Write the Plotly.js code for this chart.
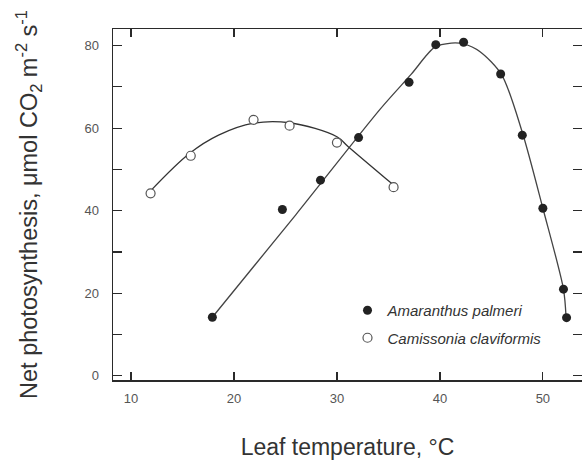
<!DOCTYPE html>
<html>
<head>
<meta charset="utf-8">
<script src="https://cdn.plot.ly/plotly-3.0.1.min.js"></script>
<style>html,body{margin:0;padding:0;background:#fff;}#chart{width:582px;height:460px;}</style>
</head>
<body>
<div id="chart"></div>
<script>
// Observed data points
const amaranthusTemp = [17.9, 24.7, 28.4, 32.1, 37.0, 39.6, 42.3, 45.9, 48.0, 50.0, 52.0, 52.3];
const amaranthusRate = [14.2, 40.3, 47.4, 57.7, 71.1, 80.2, 80.8, 73.1, 58.3, 40.6, 21.0, 14.1];
const camissoniaTemp = [11.9, 15.8, 21.9, 25.4, 30.0, 35.5];
const camissoniaRate = [44.2, 53.3, 62.0, 60.6, 56.5, 45.7];

// Fitted curves
const amaranthusCurveTemp = [17.9, 26.0, 34.2, 37.2, 39.5, 41.1, 42.3, 43.9, 46.0, 48.0, 50.0, 52.0, 52.25];
const amaranthusCurveRate = [14.2, 39.0, 64.6, 73.0, 79.6, 80.6, 80.4, 78.5, 72.9, 59.0, 40.6, 21.0, 14.3];
const camissoniaCurveTemp = [11.9, 15.7, 18.5, 21.9, 25.4, 30.0, 31.1, 35.5];
const camissoniaCurveRate = [44.8, 53.9, 58.3, 61.2, 61.3, 57.9, 55.5, 46.2];

const legendNames = ['Amaranthus palmeri', 'Camissonia claviformis'];
const yTickVals = [0, 20, 40, 60, 80];
const yMinorTickVals = [10, 30, 50, 70];
const xTickVals = [10, 20, 30, 40, 50];

const ink = '#2a2a2a';

const traces = [
  {x: amaranthusCurveTemp, y: amaranthusCurveRate, mode: 'lines', showlegend: false, hoverinfo: 'skip',
   line: {color: '#444', width: 1.3, shape: 'spline', smoothing: 0.8}},
  {x: camissoniaCurveTemp, y: camissoniaCurveRate, mode: 'lines', showlegend: false, hoverinfo: 'skip',
   line: {color: '#333', width: 1.3, shape: 'spline', smoothing: 1}},
  {x: amaranthusTemp, y: amaranthusRate, mode: 'markers', name: legendNames[0], legendgroup: 'a',
   marker: {symbol: 'circle', size: 9, color: '#222', line: {color: '#222', width: 0}}},
  {x: camissoniaTemp, y: camissoniaRate, mode: 'markers', name: legendNames[1], legendgroup: 'c',
   marker: {symbol: 'circle', size: 9, color: '#fff', line: {color: '#555', width: 1.2}}}
];

const layout = {
  width: 582, height: 460,
  margin: {l: 113, r: 0, t: 29, b: 80},
  paper_bgcolor: '#fff', plot_bgcolor: '#fff',
  font: {family: 'Liberation Sans, Arial, sans-serif', color: '#444'},
  showlegend: true,
  legend: {x: 0.5, y: 0.245, xanchor: 'left', yanchor: 'top', bgcolor: 'rgba(0,0,0,0)',
           font: {size: 15, style: 'italic', color: '#333'}, tracegroupgap: 5, itemwidth: 30},
  xaxis: {
    range: [8.25, 53.8], tickvals: xTickVals, ticks: 'inside', ticklen: 8, tickwidth: 1.2, tickcolor: ink,
    showline: true, linecolor: ink, linewidth: 1.5, mirror: 'ticks', showgrid: false, zeroline: false,
    tickfont: {size: 13, color: '#555'}, ticklabelstandoff: 6,
    title: {text: 'Leaf temperature, °C', font: {size: 23, color: '#333'}, standoff: 36}
  },
  yaxis: {
    range: [-1, 84], tickvals: yTickVals, ticks: 'inside', ticklen: 9, tickwidth: 1.2, tickcolor: ink,
    minor: {tickmode: 'array', tickvals: yMinorTickVals, ticks: 'inside', ticklen: 9, tickwidth: 1.2, tickcolor: ink, showgrid: false},
    showline: true, linecolor: ink, linewidth: 1.5, mirror: 'ticks', showgrid: false, zeroline: false,
    tickfont: {size: 13, color: '#555'}, ticklabelstandoff: 10,
    title: {text: 'Net photosynthesis, μmol CO<sub>2</sub> m<sup>-2</sup> s<sup>-1</sup>', font: {size: 23.5, color: '#333'}, standoff: 40}
  }
};

Plotly.newPlot('chart', traces, layout, {displayModeBar: false, staticPlot: true});
</script>
</body>
</html>
